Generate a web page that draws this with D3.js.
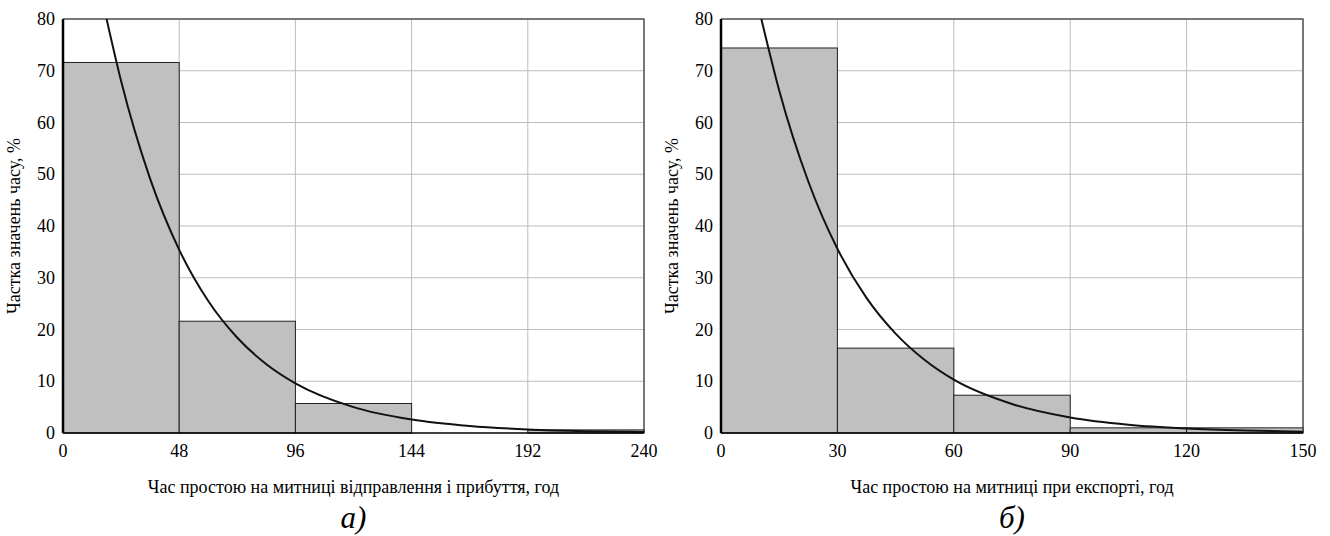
<!DOCTYPE html>
<html>
<head>
<meta charset="utf-8">
<script src="https://cdn.jsdelivr.net/npm/d3@7"></script>
</head>
<body style="margin:0">
<svg id="chart" width="1330" height="536"></svg>
<script>
// panel a: departure & arrival customs
const binsA = [0, 48, 96, 144, 192, 240]
const shareA = [71.6, 21.6, 5.7, 0, 0.6]
const curveXA = [18, 24, 36, 48, 60, 72, 84, 96, 120, 144, 168, 192, 216, 240]
const curveYA = [80, 68, 49.1, 35.4, 25.5, 18.4, 13.3, 9.6, 5.0, 2.6, 1.35, 0.7, 0.36, 0.19]
const ticksA = [0, 48, 96, 144, 192, 240]

// panel b: export
const binsB = [0, 30, 60, 90, 120, 150]
const shareB = [74.4, 16.4, 7.3, 1.0, 1.0]
const curveXB = [10.4, 15, 22.5, 30, 37.5, 45, 52.5, 60, 75, 90, 105, 120, 135, 150]
const curveYB = [80, 66.2, 48.6, 35.6, 26.1, 19.2, 14.1, 10.3, 5.6, 3.0, 1.6, 0.87, 0.47, 0.25]
const ticksB = [0, 30, 60, 90, 120, 150]

const yTicks = [0, 10, 20, 30, 40, 50, 60, 70, 80]
const yLabel = 'Частка значень часу, %'

const svg = d3.select('#chart')
const plotTop = 19, plotBottom = 433

function addText(parent, size) {
  return parent.append('text')
    .style('font-family', '"Liberation Serif"')
    .style('font-size', size + 'px')
}

function drawPanel(opts) {
  const { id, x0, x1, bins, share, cx, cy, ticks, xTitle, letter } = opts

  const x = d3.scaleLinear().domain([bins[0], bins[bins.length - 1]]).range([x0, x1])
  const y = d3.scaleLinear().domain([0, 80]).range([plotBottom, plotTop])

  svg.append('clipPath').attr('id', 'clip' + id)
    .append('rect')
      .attr('x', x0).attr('y', plotTop)
      .attr('width', x1 - x0).attr('height', plotBottom - plotTop)

  // grid
  yTicks.slice(1).forEach((d) => {
    svg.append('line')
      .attr('x1', x0).attr('x2', x1)
      .attr('y1', y(d)).attr('y2', y(d))
      .attr('stroke', '#bdbdbd').attr('stroke-width', 1)
  })
  ticks.slice(1).forEach((d) => {
    svg.append('line')
      .attr('x1', x(d)).attr('x2', x(d))
      .attr('y1', plotTop).attr('y2', plotBottom)
      .attr('stroke', '#bdbdbd').attr('stroke-width', 1)
  })

  // frame (top + right)
  svg.append('path')
    .attr('d', `M${x0},${plotTop}H${x1}V${plotBottom}`)
    .attr('fill', 'none').attr('stroke', '#555').attr('stroke-width', 1.5)

  // bars
  share.forEach((v, i) => {
    if (v <= 0) return
    svg.append('rect')
      .attr('x', x(bins[i]))
      .attr('y', y(v))
      .attr('width', x(bins[i + 1]) - x(bins[i]))
      .attr('height', plotBottom - y(v))
      .attr('fill', '#c0c0c0')
      .attr('stroke', '#222')
      .attr('stroke-width', 1)
  })

  // fitted curve
  const line = d3.line()
    .x((d) => x(d[0]))
    .y((d) => y(d[1]))
    .curve(d3.curveMonotoneX)
  svg.append('path')
    .datum(cx.map((v, i) => [v, cy[i]]))
    .attr('clip-path', `url(#clip${id})`)
    .attr('fill', 'none')
    .attr('stroke', '#111')
    .attr('stroke-width', 2)
    .attr('d', line)

  // axis lines
  svg.append('line')
    .attr('x1', x0).attr('x2', x0).attr('y1', plotTop).attr('y2', plotBottom)
    .attr('stroke', '#000').attr('stroke-width', 2.5)
  svg.append('line')
    .attr('x1', x0).attr('x2', x1).attr('y1', plotBottom).attr('y2', plotBottom)
    .attr('stroke', '#000').attr('stroke-width', 1.5)

  // tick labels
  yTicks.forEach((d) => {
    addText(svg, 18)
      .attr('x', x0 - 8).attr('y', y(d) + 6)
      .attr('text-anchor', 'end')
      .text(d)
  })
  ticks.forEach((d) => {
    addText(svg, 18)
      .attr('x', x(d)).attr('y', plotBottom + 24)
      .attr('text-anchor', 'middle')
      .text(d)
  })

  // titles
  const cxm = (x0 + x1) / 2
  addText(svg, 18)
    .attr('transform', `translate(${x0 - 43},${(plotTop + plotBottom) / 2}) rotate(-90)`)
    .attr('text-anchor', 'middle')
    .text(yLabel)
  addText(svg, 18)
    .attr('x', cxm).attr('y', 493)
    .attr('text-anchor', 'middle')
    .text(xTitle)
  addText(svg, 31)
    .attr('x', cxm).attr('y', 528)
    .attr('text-anchor', 'middle')
    .style('font-style', 'italic')
    .text(letter)
}

drawPanel({
  id: 'a', x0: 63, x1: 644, bins: binsA, share: shareA,
  cx: curveXA, cy: curveYA, ticks: ticksA,
  xTitle: 'Час простою на митниці відправлення і прибуття, год', letter: 'а)',
})
drawPanel({
  id: 'b', x0: 721, x1: 1303, bins: binsB, share: shareB,
  cx: curveXB, cy: curveYB, ticks: ticksB,
  xTitle: 'Час простою на митниці при експорті, год', letter: 'б)',
})
</script>
</body>
</html>
